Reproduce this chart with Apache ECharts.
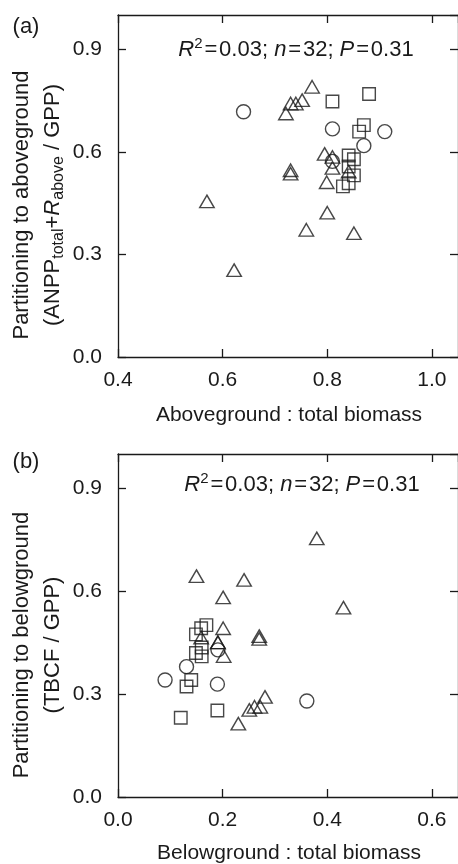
<!DOCTYPE html>
<html><head><meta charset="utf-8">
<script src="https://cdn.jsdelivr.net/npm/echarts@6/dist/echarts.min.js"></script>
<style>html,body{margin:0;padding:0;background:#fff}#c{width:458px;height:864px}</style>
</head><body><div id="c"></div>
<script>
// Panel (a): aboveground : total biomass vs partitioning to aboveground
const aboveCircles = [[0.64,0.717],[0.81,0.667],[0.91,0.659],[0.87,0.618],[0.81,0.572]];
const aboveSquares = [[0.81,0.747],[0.88,0.769],[0.861,0.659],[0.87,0.678],[0.841,0.589],[0.851,0.578],[0.841,0.557],[0.851,0.531],[0.841,0.508],[0.83,0.499]];
const aboveTriangles = [[0.771,0.79],[0.752,0.751],[0.740,0.741],[0.730,0.741],[0.721,0.712],[0.73,0.546],[0.73,0.536],[0.795,0.594],[0.81,0.585],[0.81,0.553],[0.799,0.511],[0.841,0.542],[0.57,0.455],[0.622,0.254],[0.76,0.372],[0.80,0.422],[0.851,0.362]];
// Panel (b): belowground : total biomass vs partitioning to belowground
const belowCircles = [[0.191,0.429],[0.131,0.38],[0.09,0.341],[0.19,0.329],[0.361,0.28]];
const belowSquares = [[0.169,0.501],[0.159,0.492],[0.149,0.474],[0.16,0.436],[0.149,0.42],[0.16,0.41],[0.14,0.341],[0.131,0.322],[0.19,0.252],[0.12,0.231]];
const belowTriangles = [[0.38,0.754],[0.15,0.644],[0.241,0.633],[0.201,0.582],[0.431,0.552],[0.201,0.492],[0.27,0.469],[0.27,0.461],[0.159,0.465],[0.191,0.451],[0.191,0.451],[0.202,0.411],[0.23,0.214],[0.251,0.254],[0.261,0.263],[0.272,0.263],[0.281,0.292]];
const xTicksA = [0.4, 1.05, 0.2];
const xTicksB = [0.0, 0.65, 0.2];
const yTicks = [0.0, 1.0, 0.3];
const EQ = '\u200a=\u200a';
const statsText = '{i|R}{sup|2}' + EQ + '0.03; {i|n}' + EQ + '32; {i|P}' + EQ + '0.31';

const FF = '"Liberation Sans", Arial, Helvetica, sans-serif';
const AX = '#1a1a1a';
const chart = echarts.init(document.getElementById('c'), null, {renderer:'canvas'});

function axis(gi, ticks, pos, labels, isX) {
  return {
    type:'value', gridIndex: gi, position: pos,
    min: ticks[0], max: ticks[1], interval: ticks[2],
    axisLine:{show:true, onZero:false, lineStyle:{color:AX, width:1.3}},
    axisTick:{show:true, inside:true, length:8, lineStyle:{color:AX, width:1.3}},
    axisLabel:{show:labels, showMaxLabel:false, margin: isX ? 13 : 16, fontSize:21, color:AX, fontFamily:FF,
      formatter: v => v.toFixed(1)},
    splitLine:{show:false}
  };
}
function ser(data, sym, size, xi) {
  return {type:'scatter', xAxisIndex: xi, yAxisIndex: xi, data: data, symbol: sym, symbolSize: size,
    itemStyle:{color:'rgba(0,0,0,0)', borderColor:AX, borderWidth:1.4}, emphasis:{disabled:true}, silent:true};
}
function mkRich(fs, sfs) {
  return {
    i:{fontSize:fs, fontStyle:'italic', fontFamily:FF, color:AX, lineHeight:fs+6},
    sup:{fontSize:sfs, fontFamily:FF, color:AX, lineHeight:sfs, verticalAlign:'top'},
    sub:{fontSize:sfs, fontFamily:FF, color:AX, lineHeight:sfs, verticalAlign:'bottom'}
  };
}
function txt(x, y, text, fs, sfs, rot) {
  const o = {type:'text', x:x, y:y, silent:true,
    style:{text:text, fontSize:fs, fontFamily:FF, fill:AX, rich:mkRich(fs, sfs),
      textAlign:'center', textVerticalAlign:'middle', align:'center', verticalAlign:'middle'}};
  if (rot) o.rotation = rot;
  return o;
}
const ROT = Math.PI/2;
chart.setOption({
  animation:false,
  grid:[{left:118, top:15, width:341, height:342}, {left:118, top:454, width:341, height:343}],
  xAxis:[axis(0,xTicksA,'bottom',true,true), axis(0,xTicksA,'top',false,true),
         axis(1,xTicksB,'bottom',true,true), axis(1,xTicksB,'top',false,true)],
  yAxis:[axis(0,yTicks,'left',true,false), axis(0,yTicks,'right',false,false),
         axis(1,yTicks,'left',true,false), axis(1,yTicks,'right',false,false)],
  series:[
    ser(aboveCircles,'circle',14,0), ser(aboveSquares,'rect',12.5,0), ser(aboveTriangles,'triangle',[14.5,12.5],0),
    ser(belowCircles,'circle',14,2), ser(belowSquares,'rect',12.5,2), ser(belowTriangles,'triangle',[14.5,12.5],2)
  ],
  graphic:[
    txt(26, 27, '(a)', 22, 14),
    txt(26, 462, '(b)', 22, 14),
    txt(296, 50, statsText, 22, 15),
    txt(302, 485, statsText, 22, 15),
    txt(289, 415, 'Aboveground : total biomass', 21, 14),
    txt(289, 853, 'Belowground : total biomass', 21, 14),
    txt(22, 205, 'Partitioning to aboveground', 22, 16, ROT),
    txt(53, 205, '(ANPP{sub|total}+{i|R}{sub|above} / GPP)', 22, 16, ROT),
    txt(22, 645, 'Partitioning to belowground', 22, 16, ROT),
    txt(53, 645, '(TBCF / GPP)', 22, 16, ROT)
  ]
});
</script></body></html>
